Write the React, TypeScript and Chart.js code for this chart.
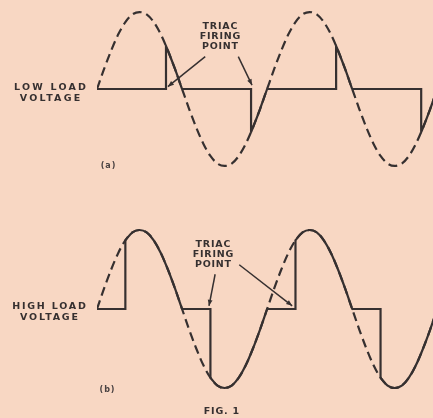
import React, { useEffect, useRef } from "react";
import { Chart, registerables } from "chart.js";

Chart.register(...registerables);

// ---- data (phase in degrees, voltage normalised to the line peak) ----
const phaseDeg = [
  0, 15, 30, 45, 60, 75, 90, 105, 120, 135, 150, 165, 180, 195, 210, 225, 240, 255, 270, 285, 300, 315, 330, 345,
  360, 375, 390, 405, 420, 435, 450, 465, 480, 495, 510, 525, 540, 555, 570, 585, 600, 615, 630, 645, 660, 675, 690, 705, 720,
];
const lineVoltage = [
  0, 0.26, 0.5, 0.71, 0.87, 0.97, 1, 0.97, 0.87, 0.71, 0.5, 0.26, 0, -0.26, -0.5, -0.71, -0.87, -0.97, -1, -0.97, -0.87, -0.71, -0.5, -0.26,
  0, 0.26, 0.5, 0.71, 0.87, 0.97, 1, 0.97, 0.87, 0.71, 0.5, 0.26, 0, -0.26, -0.5, -0.71, -0.87, -0.97, -1, -0.97, -0.87, -0.71, -0.5, -0.26, 0,
];

// (a) low load: triac fires late in each half cycle (null = pen lift)
const lowLoadPhase = [
  0, 146, 146, 146, 146, 150, 165, 180, 180, 180, 326, 326, 326, 326, 330, 345, 360, 360,
  360, 506, 506, 506, 506, 510, 525, 540, 540, 540, 686, 686, 686, 686, 690, 705, 720,
];
const lowLoadVoltage = [
  0, 0, 0.56, null, 0.56, 0.5, 0.26, 0, null, 0, 0, -0.56, null, -0.56, -0.5, -0.26, 0, null,
  0, 0, 0.56, null, 0.56, 0.5, 0.26, 0, null, 0, 0, -0.56, null, -0.56, -0.5, -0.26, 0,
];

// (b) high load: triac fires early in each half cycle
const highLoadPhase = [
  0, 60, 60, 60, 60, 75, 90, 105, 120, 135, 150, 165, 180, 180,
  180, 240, 240, 240, 240, 255, 270, 285, 300, 315, 330, 345, 360, 360,
  360, 420, 420, 420, 420, 435, 450, 465, 480, 495, 510, 525, 540, 540,
  540, 600, 600, 600, 600, 615, 630, 645, 660, 675, 690, 705, 720,
];
const highLoadVoltage = [
  0, 0, 0.87, null, 0.87, 0.97, 1, 0.97, 0.87, 0.71, 0.5, 0.26, 0, null,
  0, 0, -0.87, null, -0.87, -0.97, -1, -0.97, -0.87, -0.71, -0.5, -0.26, 0, null,
  0, 0, 0.87, null, 0.87, 0.97, 1, 0.97, 0.87, 0.71, 0.5, 0.26, 0, null,
  0, 0, -0.87, null, -0.87, -0.97, -1, -0.97, -0.87, -0.71, -0.5, -0.26, 0,
];

// "TRIAC FIRING POINT" leader lines: [fromPhase, fromLevel, toPhase, toLevel]
const lowLeaders = [
  [229, 0.42, 150, 0.03],
  [299, 0.42, 328, 0.05],
];
const highLeaders = [
  [250, 0.44, 237, 0.04],
  [301, 0.56, 413, 0.04],
];

const INK = "#363030";
const PAPER = "#f8d7c3";

const leaderPlugin = {
  id: "leaders",
  afterDatasetsDraw(chart: any, _args: any, opts: any) {
    const { ctx } = chart;
    const xs = chart.scales.x;
    const ys = chart.scales.y;
    const items: number[][] = opts.items || [];
    ctx.save();
    ctx.strokeStyle = INK;
    ctx.fillStyle = INK;
    ctx.lineWidth = 1.5;
    for (const it of items) {
      const x1 = xs.getPixelForValue(it[0]);
      const y1 = ys.getPixelForValue(it[1]);
      const x2 = xs.getPixelForValue(it[2]);
      const y2 = ys.getPixelForValue(it[3]);
      ctx.beginPath();
      ctx.moveTo(x1, y1);
      ctx.lineTo(x2, y2);
      ctx.stroke();
      const a = Math.atan2(y2 - y1, x2 - x1);
      const L = 6;
      const W = 2.4;
      ctx.beginPath();
      ctx.moveTo(x2, y2);
      ctx.lineTo(x2 - L * Math.cos(a) + W * Math.sin(a), y2 - L * Math.sin(a) - W * Math.cos(a));
      ctx.lineTo(x2 - L * Math.cos(a) - W * Math.sin(a), y2 - L * Math.sin(a) + W * Math.cos(a));
      ctx.closePath();
      ctx.fill();
    }
    ctx.restore();
  },
};

type WaveProps = {
  top: number;
  height: number;
  padTop: number;
  padBottom: number;
  yMax: number;
  solidX: number[];
  solidY: (number | null)[];
  leaders: number[][];
};

function Wave({ top, height, padTop, padBottom, yMax, solidX, solidY, leaders }: WaveProps) {
  const ref = useRef<HTMLCanvasElement | null>(null);
  useEffect(() => {
    if (!ref.current) return;
    const solid = solidX.map((x, i) => ({ x, y: solidY[i] }));
    const dashed = phaseDeg.map((x, i) => ({ x, y: lineVoltage[i] }));
    const chart = new Chart(ref.current, {
      type: "line",
      data: {
        datasets: [
          {
            data: solid as any,
            borderColor: INK,
            borderWidth: 2.2,
            pointRadius: 0,
            cubicInterpolationMode: "monotone",
            borderCapStyle: "round",
            borderJoinStyle: "miter",
            spanGaps: false,
          },
          {
            data: dashed as any,
            borderColor: INK,
            borderWidth: 2.2,
            borderDash: [9, 5],
            pointRadius: 0,
            cubicInterpolationMode: "monotone",
          },
        ],
      },
      options: {
        animation: false,
        responsive: false,
        maintainAspectRatio: false,
        events: [],
        layout: { padding: { left: 97, right: 0, top: padTop, bottom: padBottom } },
        scales: {
          x: { type: "linear", min: 0, max: 711, display: false },
          y: { type: "linear", min: -yMax, max: yMax, display: false },
        },
        plugins: {
          legend: { display: false },
          tooltip: { enabled: false },
          leaders: { items: leaders },
        } as any,
      },
      plugins: [leaderPlugin],
    });
    return () => chart.destroy();
  }, []);
  return (
    <canvas
      ref={ref}
      width={433}
      height={height}
      style={{ position: "absolute", left: 0, top, width: 433, height, display: "block" }}
    />
  );
}

type LabelProps = { cx: number; top: number; lines: string[]; size?: number; ls?: number; lh?: number; color?: string };

function Label({ cx, top, lines, size = 9.5, ls = 1, lh = 10, color = INK }: LabelProps) {
  return (
    <div
      style={{
        position: "absolute",
        left: cx - 70,
        width: 140,
        top,
        textAlign: "center",
        fontFamily: '"DejaVu Sans", "Liberation Sans", Arial, sans-serif',
        fontWeight: 700,
        fontSize: size,
        lineHeight: `${lh}px`,
        letterSpacing: ls,
        paddingLeft: ls,
        boxSizing: "border-box",
        color,
        whiteSpace: "nowrap",
      }}
    >
      {lines.map((l, i) => (
        <div key={i}>{l}</div>
      ))}
    </div>
  );
}

export default function App() {
  return (
    <div
      style={{
        position: "fixed",
        left: 0,
        top: 0,
        width: 433,
        height: 418,
        background: PAPER,
        overflow: "hidden",
      }}
    >
      <Wave
        top={0}
        height={200}
        padTop={0.5}
        padBottom={22.5}
        yMax={1.15}
        solidX={lowLoadPhase}
        solidY={lowLoadVoltage}
        leaders={lowLeaders}
      />
      <Wave
        top={200}
        height={218}
        padTop={14.2}
        padBottom={14.2}
        yMax={1.2}
        solidX={highLoadPhase}
        solidY={highLoadVoltage}
        leaders={highLeaders}
      />
      <Label cx={220} top={20.5} lines={["TRIAC", "FIRING", "POINT"]} ls={0.8} lh={10} />
      <Label cx={50} top={80.7} lines={["LOW LOAD", "VOLTAGE"]} ls={2.2} lh={11.3} />
      <Label cx={108} top={160.5} lines={["(a)"]} size={8} ls={1} lh={9} color="#4a4242" />
      <Label cx={213} top={238.5} lines={["TRIAC", "FIRING", "POINT"]} ls={0.8} lh={10.3} />
      <Label cx={49} top={300} lines={["HIGH LOAD", "VOLTAGE"]} ls={1.8} lh={11} />
      <Label cx={107} top={385} lines={["(b)"]} size={8} ls={1} lh={9} color="#4a4242" />
      <Label cx={221.5} top={406} lines={["FIG. 1"]} size={9.5} ls={0.8} lh={10} />
    </div>
  );
}
